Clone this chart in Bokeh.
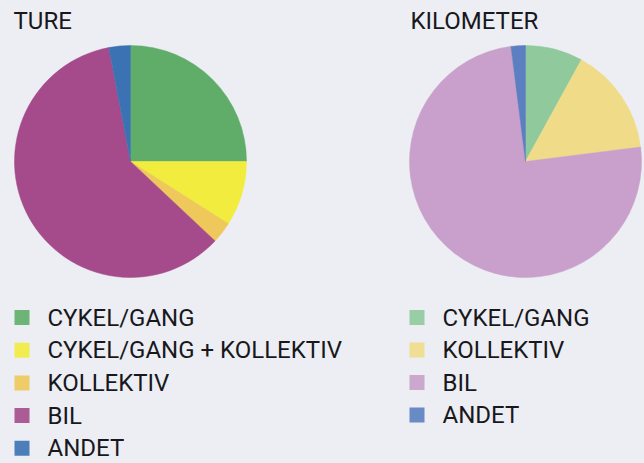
import numpy as np
from jinja2 import Template
from bokeh.plotting import figure
from bokeh.models import Range1d
from bokeh.core.properties import value
from bokeh.embed import file_html
from bokeh.resources import INLINE

# ---- data ----
ture_title = "TURE"
ture_labels = ["CYKEL/GANG", "CYKEL/GANG + KOLLEKTIV", "KOLLEKTIV", "BIL", "ANDET"]
ture_values = [25, 9, 3, 60, 3]
ture_colors = ["#5fad69", "#f2ec3e", "#eec85a", "#a54b8b", "#3b72b3"]

km_title = "KILOMETER"
km_labels = ["CYKEL/GANG", "KOLLEKTIV", "BIL", "ANDET"]
km_values = [8, 15, 75, 2]
km_colors = ["#8fc99c", "#f0dc88", "#c9a0cb", "#5b7fc0"]

BG = "#eceef3"
TXT = "#18181c"
FONT = value("Roboto")

W, H = 644, 463
IMG_H = 463

def Y(img_y):
    return IMG_H - img_y

p = figure(width=W, height=H, x_range=Range1d(0, W), y_range=Range1d(0, H),
           output_backend="svg", toolbar_location=None, min_border=0)
p.axis.visible = False
p.grid.visible = False
p.outline_line_color = None
p.background_fill_color = BG
p.border_fill_color = BG


def pie(cx, cy, r, values, colors):
    fr = np.cumsum([0] + list(values)) / float(sum(values))
    start = np.pi / 2 - 2 * np.pi * fr[:-1]
    end = np.pi / 2 - 2 * np.pi * fr[1:]
    p.wedge(x=cx, y=cy, radius=r, start_angle=start, end_angle=end, direction="clock",
            fill_color=colors, line_color=colors, line_width=0.5)


def legend(sq_x, txt_x, first_mid, step, labels, colors):
    mids = [first_mid + i * step for i in range(len(labels))]
    p.rect(x=[sq_x] * len(labels), y=[Y(m) for m in mids], width=15, height=15,
           fill_color=colors, line_color=None, fill_alpha=0.9)
    p.text(x=[txt_x] * len(labels), y=[Y(m) for m in mids], text=labels,
           text_baseline="middle", text_align="left", text_font=FONT,
           text_font_size="24px", text_color=TXT)


# titles
p.text(x=[13, 410], y=[Y(20), Y(20)], text=[ture_title, km_title], text_baseline="middle",
       text_font=FONT, text_font_size="24px", text_color=TXT)

pie(130, Y(161), 116, ture_values, ture_colors)
pie(525, Y(161), 116, km_values, km_colors)

legend(21.5, 47, 317, 32.7, ture_labels, ture_colors)
legend(416.5, 442, 317, 32.5, km_labels, km_colors)

template = Template("""{% extends base %}
{% block preamble %}<style>html, body { background: """ + BG + """; overflow: hidden; }</style>{% endblock %}""")

open("out.html", "w").write(file_html(p, INLINE, template=template))
